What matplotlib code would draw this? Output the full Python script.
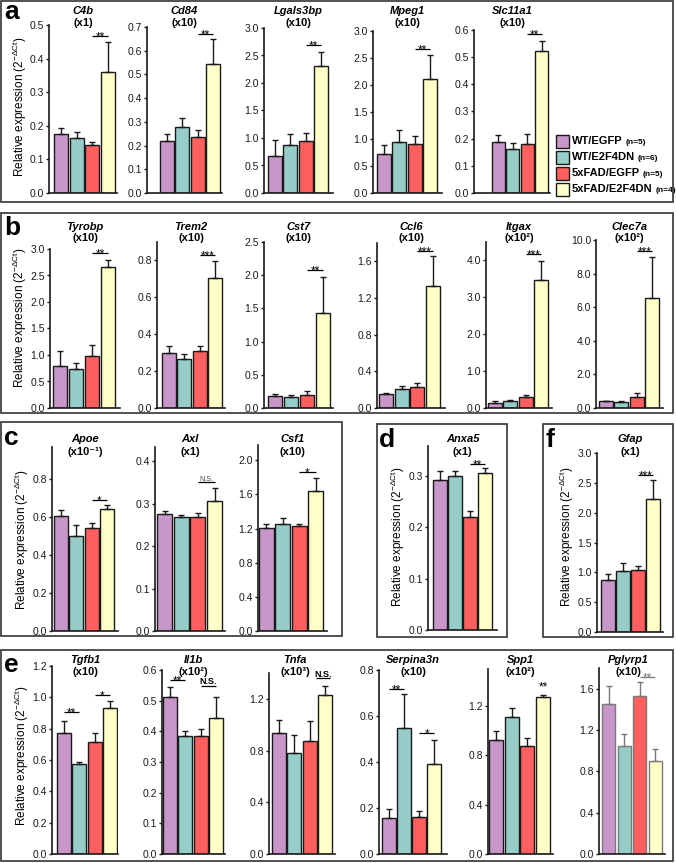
import numpy as np
import matplotlib
matplotlib.use('Agg')
import matplotlib.pyplot as plt
from matplotlib.patches import Rectangle

plt.rcParams['font.family'] = ['Liberation Sans', 'DejaVu Sans']
plt.rcParams['mathtext.default'] = 'regular'

W, H = 676, 863

# ---------------- data ----------------
groups = ['WT/EGFP', 'WT/E2F4DN', '5xFAD/EGFP', '5xFAD/E2F4DN']
group_n = ['(n=5)', '(n=6)', '(n=5)', '(n=4)']
colors = ['#C896C8', '#96CDC8', '#FF5F5F', '#FFFFC8']

genes_a = ['C4b', 'Cd84', 'Lgals3bp', 'Mpeg1', 'Slc11a1']
mult_a = ['(x1)', '(x10)', '(x10)', '(x10)', '(x10)']
mean_a = [[0.177, 0.165, 0.143, 0.360],
          [0.221, 0.277, 0.235, 0.543],
          [0.679, 0.873, 0.939, 2.315],
          [0.72, 0.95, 0.91, 2.11],
          [0.187, 0.163, 0.181, 0.523]]
sem_a = [[0.016, 0.017, 0.010, 0.090],
         [0.028, 0.038, 0.031, 0.108],
         [0.279, 0.194, 0.152, 0.249],
         [0.16, 0.21, 0.15, 0.44],
         [0.027, 0.021, 0.036, 0.038]]
sig_a = [[(2, 3, 0.468, '**')], [(2, 3, 0.672, '**')], [(2, 3, 2.685, '**')],
         [(2, 3, 2.67, '**')], [(2, 3, 0.584, '**')]]

genes_b = ['Tyrobp', 'Trem2', 'Cst7', 'Ccl6', 'Itgax', 'Clec7a']
mult_b = ['(x10)', '(x10)', '(x10)', '(x10)', '(x10²)', '(x10²)']
mean_b = [[0.79, 0.74, 0.99, 2.667],
          [0.300, 0.264, 0.311, 0.705],
          [0.175, 0.160, 0.200, 1.435],
          [0.149, 0.211, 0.229, 1.327],
          [0.135, 0.198, 0.288, 3.478],
          [0.396, 0.376, 0.653, 6.574]]
sem_b = [[0.28, 0.11, 0.19, 0.123],
         [0.038, 0.029, 0.025, 0.091],
         [0.040, 0.030, 0.050, 0.540],
         [0.015, 0.025, 0.044, 0.328],
         [0.045, 0.027, 0.054, 0.495],
         [0.044, 0.044, 0.237, 2.436]]
sig_b = [[(2, 3, 2.92, '**')], [(2, 3, 0.832, '***')], [(2, 3, 2.075, '**')],
         [(2, 3, 1.709, '***')], [(2, 3, 4.18, '***')], [(2, 3, 9.37, '***')]]

genes_c = ['Apoe', 'Axl', 'Csf1']
mult_c = ['(x10⁻¹)', '(x1)', '(x10)']
mean_c = [[0.608, 0.503, 0.545, 0.645],
          [0.275, 0.2685, 0.2685, 0.3076],
          [1.205, 1.252, 1.225, 1.636]]
sem_c = [[0.030, 0.056, 0.026, 0.018],
         [0.009, 0.0055, 0.0095, 0.029],
         [0.051, 0.067, 0.031, 0.157]]
sig_c = [[(2, 3, 0.691, '*')], [(2, 3, 0.351, 'N.S.')], [(2, 3, 1.863, '*')]]

genes_d = ['Anxa5']
mult_d = ['(x1)']
mean_d = [[0.291, 0.299, 0.219, 0.305]]
sem_d = [[0.019, 0.011, 0.013, 0.010]]
sig_d = [[(2, 3, 0.323, '**')]]

genes_f = ['Gfap']
mult_f = ['(x1)']
mean_f = [[0.877, 1.017, 1.045, 2.235]]
sem_f = [[0.089, 0.139, 0.055, 0.307]]
sig_f = [[(2, 3, 2.637, '***')]]

genes_e = ['Tgfb1', 'Il1b', 'Tnfa', 'Serpina3n', 'Spp1', 'Pglyrp1']
mult_e = ['(x10)', '(x10²)', '(x10³)', '(x10)', '(x10²)', '(x10)']
mean_e = [[0.774, 0.572, 0.713, 0.934],
          [0.513, 0.384, 0.384, 0.444],
          [0.937, 0.780, 0.875, 1.226],
          [0.155, 0.546, 0.159, 0.390],
          [0.923, 1.113, 0.877, 1.270],
          [1.449, 1.046, 1.530, 0.904]]
sem_e = [[0.075, 0.017, 0.061, 0.043],
         [0.030, 0.016, 0.023, 0.068],
         [0.096, 0.137, 0.150, 0.074],
         [0.039, 0.148, 0.027, 0.106],
         [0.076, 0.068, 0.065, 0.023],
         [0.177, 0.112, 0.134, 0.112]]
sig_e = [[(0, 1, 0.909, '**'), (2, 3, 1.015, '*')],
         [(0, 1, 0.567, '**'), (2, 3, 0.549, 'N.S.')],
         [(2.4, 3.3, 1.36, 'N.S.')],
         [(0, 1, 0.716, '**'), (2, 3, 0.528, '*')],
         [(3, 3, 1.363, '**')],
         [(2, 3, 1.712, '**')]]

# ---------------- layout (pixels) ----------------
# (spine x, first bar left, last bar right, axis end, top px, bottom px, ylim top, tick step)
geom_a = [(49, 54, 115, 117, 25, 193, 0.5, 0.1),
          (147, 160, 220, 222, 27, 193, 0.7, 0.1),
          (264, 268, 328, 333, 28, 193, 3.0, 0.5),
          (373, 377, 437, 442, 31, 193, 3.0, 0.5),
          (474, 492, 548, 550, 30, 193, 0.6, 0.1)]
geom_b = [(50, 53, 115, 120, 249, 408, 3.0, 0.5),
          (157, 162, 222, 225, 242, 408, 0.9, 0.2),
          (264, 268, 330, 333, 242, 408, 2.5, 0.5),
          (377, 379, 440, 445, 243, 408, 1.8, 0.4),
          (486, 488, 548, 552, 242, 408, 4.5, 1.0),
          (596, 599, 659, 663, 240, 408, 10.0, 2.0)]
geom_c = [(52, 54, 114, 118, 447, 631, 0.97, 0.2),
          (155, 157, 222, 225, 447, 631, 0.434, 0.1),
          (258, 259, 323, 327, 445, 631, 2.18, 0.4)]
geom_d = [(428, 433, 492, 497, 446, 630, 0.358, 0.1)]
geom_f = [(597, 601, 660, 663, 453, 632, 3.0, 0.5)]
geom_e = [(52, 57, 117, 118, 666, 854, 1.2, 0.2),
          (162, 163, 223, 225, 670, 854, 0.6, 0.1),
          (269, 272, 332, 335, 673, 854, 1.4, 0.4),
          (379, 382, 441, 447, 670, 854, 0.8, 0.2),
          (488, 489, 550, 553, 669, 854, 1.5, 0.4),
          (599, 602, 662, 665, 668, 854, 1.8, 0.4)]

fig = plt.figure(figsize=(W / 100, H / 100), dpi=100)
fig.patch.set_facecolor('white')


def px_axes(l, t, r, b):
    return fig.add_axes([l / W, 1 - b / H, (r - l) / W, (b - t) / H])


def draw_sig(ax, i, j, y, label, color):
    if i != j:
        ax.plot([i, j], [y, y], color=color, lw=0.9, clip_on=False,
                solid_capstyle='butt', zorder=4)
    if label.startswith('N'):
        small = (j - i) < 1.05 and y < 0.4
        ax.annotate(label, xy=((i + j) / 2, y), xytext=(0, 1.2),
                    textcoords='offset points', ha='center', va='baseline',
                    fontsize=5 if small else 6.5,
                    fontweight='normal' if small else 'bold',
                    color='#444' if small else 'k', annotation_clip=False)
    else:
        ax.annotate(label, xy=((i + j) / 2, y), xytext=(0, -3.2),
                    textcoords='offset points', ha='center', va='baseline',
                    fontsize=8.5, color=color, annotation_clip=False)


def draw_bar(gene, mult, m, s, g, sigs, title_y, bw=0.9, edge='#1a1a1a',
             sigcolor='k', title_dx=0):
    spine, bl, br, end, tp, bp, ytop, ystep = g
    ax = px_axes(spine, tp, end, bp)
    ppu = (br - bl) / (3 + bw)
    x = np.arange(4)
    ax.set_xlim(-bw / 2 - (bl - spine) / ppu, 3 + bw / 2 + (end - br) / ppu)
    ax.set_ylim(0, ytop)
    ax.bar(x, m, width=bw, color=colors, edgecolor=edge, linewidth=1.0, zorder=2)
    ax.errorbar(x, m, yerr=[np.zeros(4), s], fmt='none', ecolor=edge,
                elinewidth=1.0, capsize=2.2, capthick=1.0, zorder=3)
    ticks = np.arange(0, ytop + 1e-9, ystep)
    ax.set_yticks(ticks)
    ax.set_yticklabels(['%.1f' % v for v in ticks])
    ax.set_xticks([])
    for sp in ['top', 'right']:
        ax.spines[sp].set_visible(False)
    for sp in ['left', 'bottom']:
        ax.spines[sp].set_linewidth(1.2)
        ax.spines[sp].set_color('#1a1a1a')
    ax.tick_params(axis='y', direction='out', length=2.5, width=1.0,
                   labelsize=7.5, pad=1, colors='#1a1a1a')
    ax.patch.set_alpha(0)
    for (i, j, y, lab) in sigs:
        draw_sig(ax, i, j, y, lab, sigcolor)
    cx = (spine + end) / 2 + title_dx
    fig.text(cx / W, 1 - title_y[0] / H, gene, ha='center', va='center',
             fontsize=8, fontweight='bold', style='italic')
    fig.text(cx / W, 1 - title_y[1] / H, mult, ha='center', va='center',
             fontsize=8, fontweight='bold')
    return ax


for k in range(len(genes_a)):
    draw_bar(genes_a[k], mult_a[k], mean_a[k], sem_a[k], geom_a[k], sig_a[k], (11, 23))
for k in range(len(genes_b)):
    draw_bar(genes_b[k], mult_b[k], mean_b[k], sem_b[k], geom_b[k], sig_b[k], (227, 238))
for k in range(len(genes_c)):
    draw_bar(genes_c[k], mult_c[k], mean_c[k], sem_c[k], geom_c[k], sig_c[k], (439, 452))
draw_bar(genes_d[0], mult_d[0], mean_d[0], sem_d[0], geom_d[0], sig_d[0], (439, 452))
draw_bar(genes_f[0], mult_f[0], mean_f[0], sem_f[0], geom_f[0], sig_f[0], (439, 452))
for k in range(len(genes_e)):
    if genes_e[k] == 'Pglyrp1':
        draw_bar(genes_e[k], mult_e[k], mean_e[k], sem_e[k], geom_e[k], sig_e[k],
                 (660, 672), bw=0.85, edge='#7a7a7a', sigcolor='#7a7a7a', title_dx=-4)
    elif genes_e[k] == 'Tnfa':
        draw_bar(genes_e[k], mult_e[k], mean_e[k], sem_e[k], geom_e[k], sig_e[k],
                 (660, 672), title_dx=-7)
    else:
        draw_bar(genes_e[k], mult_e[k], mean_e[k], sem_e[k], geom_e[k], sig_e[k], (660, 672))

# y labels
ylab = r'Relative expression (2$^{-\Delta Ct}$)'
for (xp, yp) in [(20, 107), (20, 318), (22, 540), (398, 537), (567, 537), (22, 756)]:
    fig.text(xp / W, 1 - yp / H, ylab, rotation=90, ha='center', va='center',
             fontsize=8.5)

# panel boxes
for (x0, y0, x1, y1) in [(1, 1, 673, 202), (1, 213, 673, 413), (1, 422, 342, 636),
                         (377, 424, 507, 637), (543, 424, 673, 637), (1, 650, 673, 861)]:
    fig.add_artist(Rectangle((x0 / W, 1 - y1 / H), (x1 - x0) / W, (y1 - y0) / H,
                             transform=fig.transFigure, fill=False, lw=1.2,
                             edgecolor='#333333'))

# panel letters
for (lab, xp, yp) in [('a', 4, 19), ('b', 4, 235), ('c', 4, 445), ('d', 379, 447),
                      ('f', 546, 447), ('e', 4, 672)]:
    fig.text(xp / W, 1 - yp / H, lab, ha='left', va='baseline', fontsize=19,
             fontweight='bold')

# legend
lax = px_axes(550, 130, 676, 200)
lax.set_xlim(550, 676)
lax.set_ylim(200, 130)
lax.axis('off')
for i in range(4):
    y0 = 135 + 16 * i
    lax.add_patch(Rectangle((556, y0), 13, 13, facecolor=colors[i],
                            edgecolor='#1a1a1a', lw=1.0))
    t = lax.text(572, y0 + 6.5, groups[i], ha='left', va='center',
                 fontsize=8, fontweight='bold')
    lax.annotate(group_n[i], xy=(1, 0), xycoords=t, xytext=(2, 0.5),
                 textcoords='offset points', ha='left', va='bottom',
                 fontsize=6, fontweight='bold')

fig.savefig('out.png', dpi=100, facecolor='white')
